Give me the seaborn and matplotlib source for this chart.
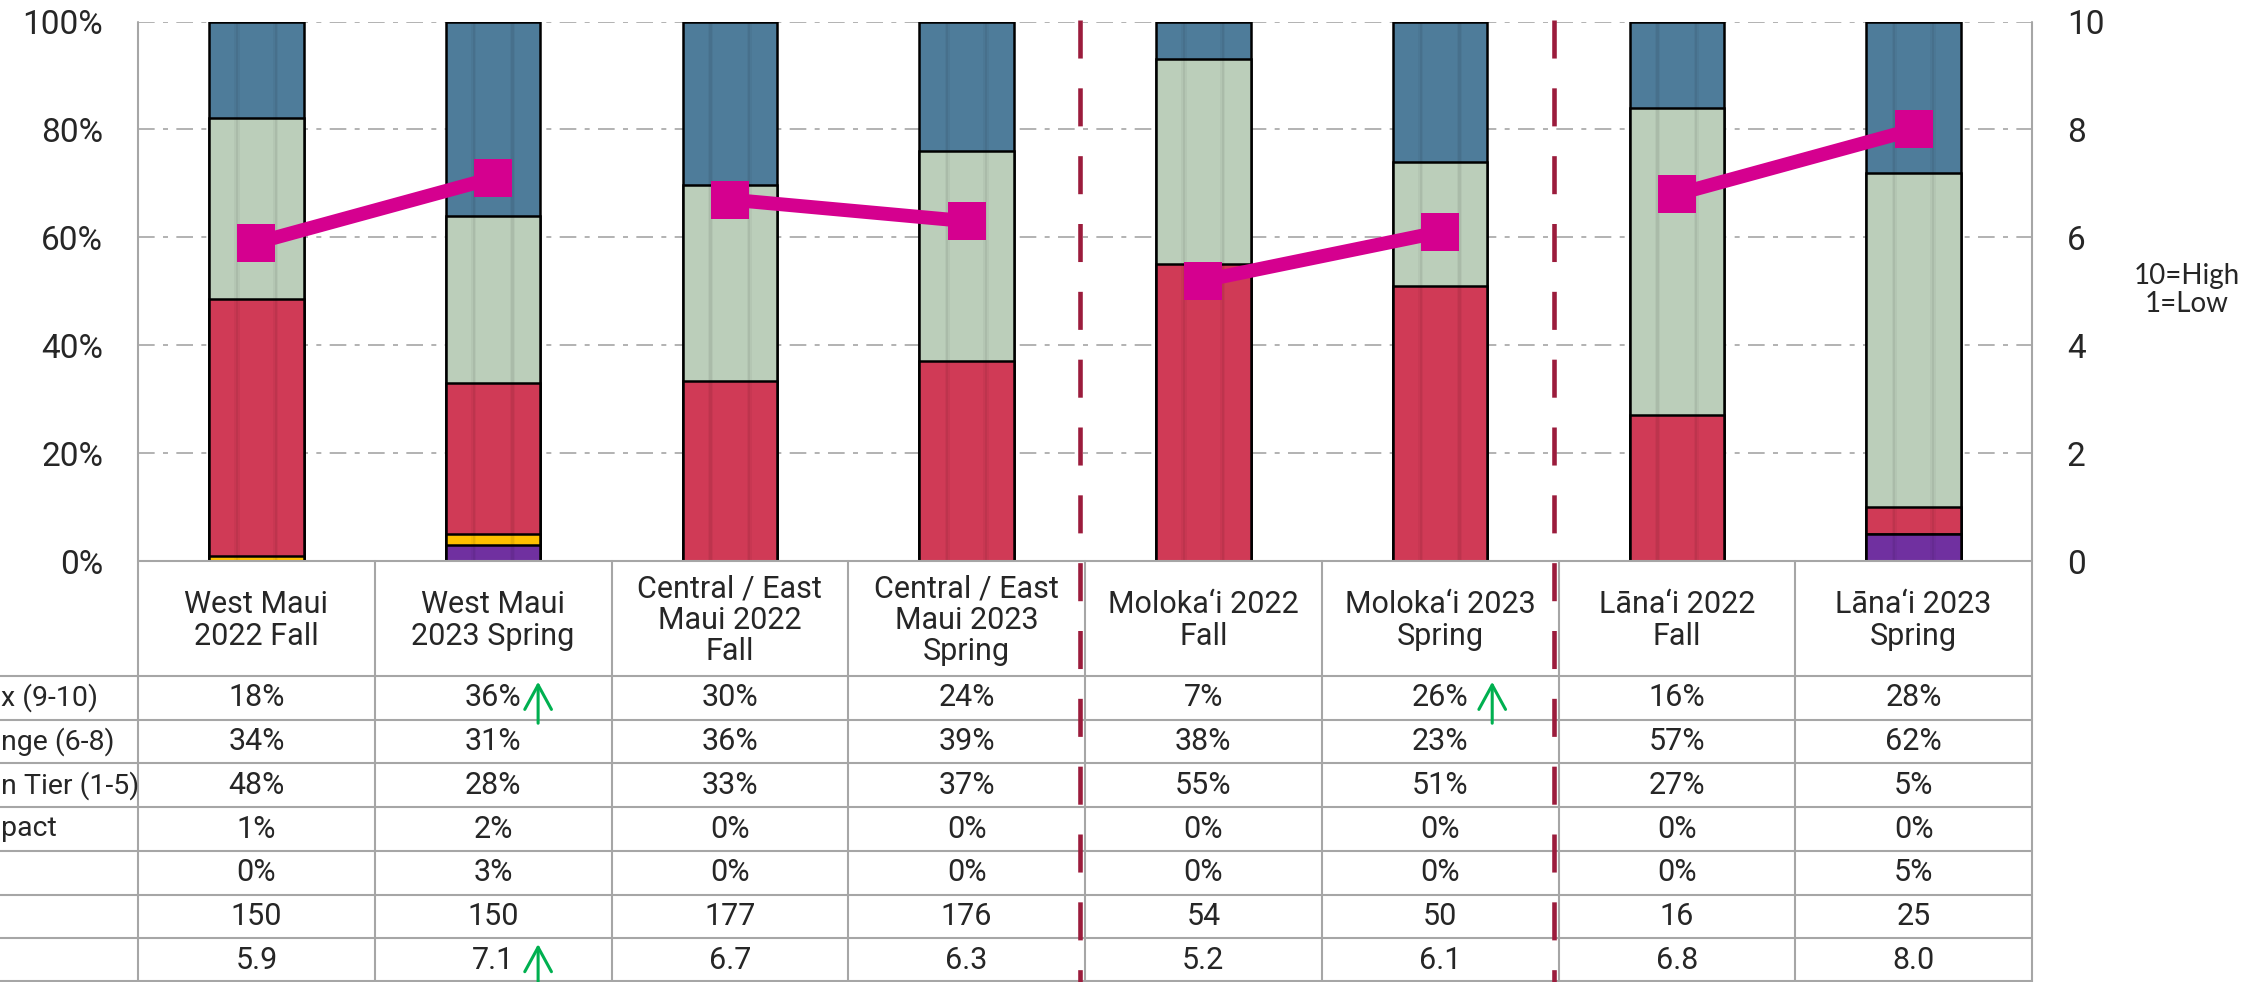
import matplotlib
matplotlib.use("Agg")
import matplotlib.pyplot as plt
import matplotlib.transforms as mtransforms
from matplotlib.ticker import PercentFormatter
import seaborn as sns
import pandas as pd
import numpy as np

# --- data ---
regions = ["West Maui\n2022 Fall", "West Maui\n2023 Spring",
           "Central / East\nMaui 2022\nFall", "Central / East\nMaui 2023\nSpring",
           "Moloka\u2018i 2022\nFall", "Moloka\u2018i 2023\nSpring",
           "L\u0101na\u2018i 2022\nFall", "L\u0101na\u2018i 2023\nSpring"]
pairs = ["West Maui", "West Maui", "Central / East Maui", "Central / East Maui",
         "Moloka\u2018i", "Moloka\u2018i", "L\u0101na\u2018i", "L\u0101na\u2018i"]
top_box = [18, 36, 30, 24, 7, 26, 16, 28]
mid_range = [34, 31, 36, 39, 38, 23, 57, 62]
bottom_tier = [48, 28, 33, 37, 55, 51, 27, 5]
no_impact = [1, 2, 0, 0, 0, 0, 0, 0]
other = [0, 3, 0, 0, 0, 0, 0, 5]
n_resp = [150, 150, 177, 176, 54, 50, 16, 25]
mean_score = [5.9, 7.1, 6.7, 6.3, 5.2, 6.1, 6.8, 8.0]
row_labels = ["x (9-10)", "nge (6-8)", "n Tier (1-5)", "pact", "", "", ""]
# (row, column) cells that carry a green up arrow
up_arrows = [(0, 1), (0, 5), (6, 1)]

BLUE = "#4E7C9A"
GREEN = "#BBCEBA"
RED = "#D03A56"
YELLOW = "#FFC000"
PURPLE = "#7030A0"
PINK = "#D5008F"
SEP = "#9B1C3C"
GRID = "#A6A6A6"
ARROW = "#00B050"

sns.set_style("white")
plt.rcParams['font.family'] = ['Roboto', 'DejaVu Sans']

W, H = 2256, 982
fig = plt.figure(figsize=(W / 100, H / 100), dpi=100)
ax = fig.add_axes([138 / W, 1 - 561 / H, (2032 - 138) / W, (561 - 21.6) / H])
ax2 = ax.twinx()

# stacked bars, drawn as cumulative layers from the top down
totals = np.array(top_box) + np.array(mid_range) + np.array(bottom_tier) + np.array(no_impact) + np.array(other)
layers = [(other, PURPLE), (no_impact, YELLOW), (bottom_tier, RED), (mid_range, GREEN), (top_box, BLUE)]
cum = np.zeros(len(regions))
cums = []
for vals, col in layers:
    cum = cum + np.array(vals) / totals * 100
    cums.append((cum.copy(), col))

pos = list(range(len(regions)))
for heights, col in reversed(cums):
    sns.barplot(x=pos, y=heights, color=col, width=0.4, saturation=1,
                edgecolor="black", linewidth=1.8, errorbar=None, ax=ax)

# faint vertical shading bands on each column (the 3D look of the original)
full = cums[-1][0]
for off in (-0.082, 0.082):
    for w, a in ((0.022, 0.035), (0.01, 0.05)):
        ax.bar(np.array(pos) + off, full, width=w, color="black", alpha=a,
               linewidth=0, zorder=3)

# mean score line, one segment per region pair
line_df = pd.DataFrame({"pos": pos, "mean": mean_score, "pair": pairs})
sns.lineplot(data=line_df, x="pos", y="mean", units="pair", estimator=None,
             color=PINK, linewidth=10, marker="s", markersize=28,
             markeredgewidth=0, ax=ax2, legend=False)

for a in (ax, ax2):
    a.set_xlim(-0.5, len(regions) - 0.5)
    a.set_xlabel("")
    a.set_ylabel("")
    for s in a.spines.values():
        s.set_visible(False)
ax.set_xticks([])
ax.set_ylim(0, 100)
ax.set_yticks(range(0, 101, 20))
ax.yaxis.set_major_formatter(PercentFormatter(xmax=100, decimals=0))
ax.tick_params(axis="y", labelsize=24, pad=25, length=0)
ax.grid(axis="y", color=GRID, linestyle=(0, (10, 5, 3, 5)), linewidth=1.2)
ax.set_axisbelow(True)
ax2.set_ylim(0, 10)
ax2.set_yticks(range(0, 11, 2))
ax2.tick_params(axis="y", labelsize=24, pad=25, length=0)
ax2.grid(False)

# --- data table below the chart (pixel overlay) ---
ov = fig.add_axes([0, 0, 1, 1], facecolor="none")
ov.set_xlim(0, W)
ov.set_ylim(H, 0)
ov.axis("off")
tr = mtransforms.blended_transform_factory(ax.transData, ov.transData)

head_top, head_bot = 561, 676
row_h = (H - head_bot) / len(row_labels)
row_y = [head_bot + row_h * i for i in range(len(row_labels) + 1)]
ncol = len(regions)

ov.plot([-0.5, ncol - 0.5], [head_top, head_top], color=GRID, lw=1.5, transform=tr)
for y in row_y:
    ov.plot([0, 2032], [y, y], color=GRID, lw=1.5)
ov.plot([0, 2032], [H - 1, H - 1], color=GRID, lw=1.5)
for i in range(ncol + 1):
    y0 = 21.6 if i in (0, ncol) else head_top
    ov.plot([i - 0.5, i - 0.5], [y0, H], color=GRID, lw=1.5, transform=tr)
for i in (4, 6):
    ov.plot([i - 0.52, i - 0.52], [20, H], color=SEP, lw=3.3,
            linestyle=(0, (8.3, 6.5)), transform=tr)

for i, name in enumerate(regions):
    ov.text(i, (head_top + head_bot) / 2 + 2, name, transform=tr, ha="center", va="center",
            fontsize=22, linespacing=1.1)

rows = [[f"{v}%" for v in top_box], [f"{v}%" for v in mid_range],
        [f"{v}%" for v in bottom_tier], [f"{v}%" for v in no_impact],
        [f"{v}%" for v in other], [str(v) for v in n_resp],
        [f"{v:.1f}" for v in mean_score]]
for r, vals in enumerate(rows):
    yc = row_y[r] + row_h / 2
    ov.text(1, yc, row_labels[r], ha="left", va="center", fontsize=20.5)
    for i, v in enumerate(vals):
        ov.text(i, yc, v, transform=tr, ha="center", va="center", fontsize=22)

for r, c in up_arrows:
    x = c + (0.22 if c == 5 else 0.19)
    ov.annotate("", xy=(x, row_y[r] + 3), xytext=(x, row_y[r] + 50),
                xycoords=tr, textcoords=tr,
                arrowprops=dict(arrowstyle="->,head_length=0.55,head_width=0.3",
                                color=ARROW, lw=2.2, mutation_scale=32))

fig.text(2187 / W, 1 - 290 / H, "10=High\n1=Low", ha="center", va="center",
         fontsize=20, family=["Lato", "DejaVu Sans"], linespacing=1.1)

fig.savefig("out.png", dpi=100)
